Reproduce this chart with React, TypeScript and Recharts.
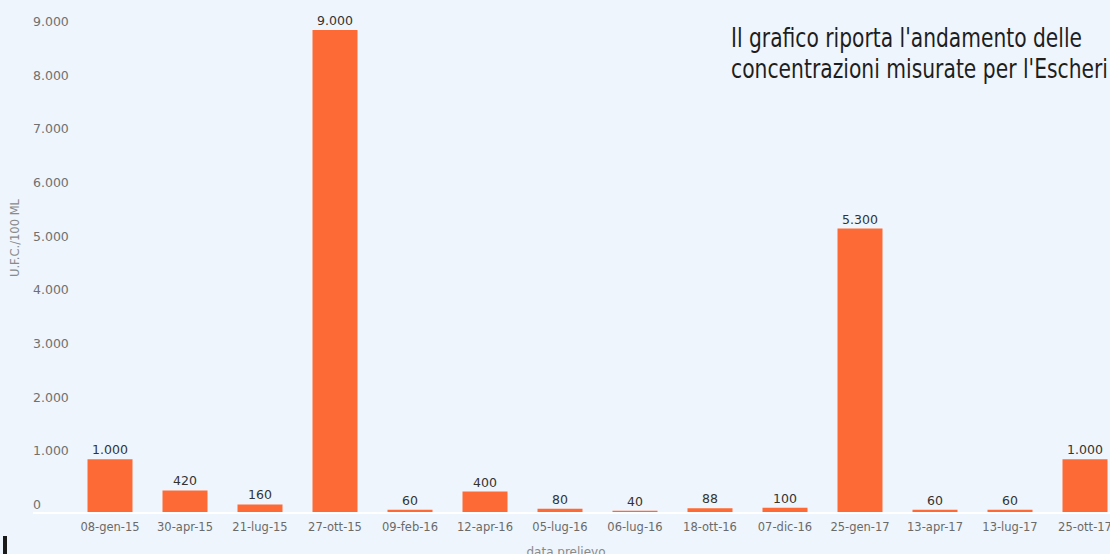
import { BarChart, Bar, XAxis, YAxis, LabelList, Label } from 'recharts'

// sampling dates and E. coli counts (U.F.C./100 mL)
const dates = [
  '08-gen-15',
  '30-apr-15',
  '21-lug-15',
  '27-ott-15',
  '09-feb-16',
  '12-apr-16',
  '05-lug-16',
  '06-lug-16',
  '18-ott-16',
  '07-dic-16',
  '25-gen-17',
  '13-apr-17',
  '13-lug-17',
  '25-ott-17',
]
const ufc = [1000, 420, 160, 9000, 60, 400, 80, 40, 88, 100, 5300, 60, 60, 1000]
const yTicks = [0, 1000, 2000, 3000, 4000, 5000, 6000, 7000, 8000, 9000]

const noteLines = [
  "Il grafico riporta l'andamento delle",
  "concentrazioni misurate per l'Escheri",
]

const data = dates.map((d, i) => ({ data: d, valore: ufc[i] }))

const BG = '#EEF5FC'
const ORANGE = '#FD6A35'
const FONT = "'DejaVu Sans', sans-serif"

// Italian thousands separator: 9000 -> 9.000
const fmt = (v: number) => String(v).replace(/\B(?=(\d{3})+(?!\d))/g, '.')

function YTick({ y, payload }: any) {
  return (
    <text x={33} y={y - 4} fontFamily={FONT} fontSize={12.5} fill="#707070">
      {fmt(payload.value)}
    </text>
  )
}

export default function App() {
  return (
    <div
      style={{
        position: 'fixed',
        left: 0,
        top: 0,
        width: 1110,
        height: 554,
        overflow: 'hidden',
        background: BG,
      }}
    >
      <BarChart
        width={1130}
        height={554}
        data={data}
        margin={{ top: 30, right: 7.5, bottom: 0, left: 0 }}
      >
        <XAxis
          dataKey="data"
          height={41}
          interval={0}
          padding={{ left: 39.5, right: 0 }}
          axisLine={{ stroke: '#ffffff', strokeWidth: 2 }}
          tickLine={false}
          tickSize={0}
          tickMargin={10}
          tick={{ fill: '#6a6a6a', fontSize: 11.5, fontFamily: FONT }}
        >
          <Label
            content={() => (
              <text
                x={566}
                y={556}
                textAnchor="middle"
                fontFamily={FONT}
                fontSize={12}
                fill="#8a8a8a"
              >
                data prelievo
              </text>
            )}
          />
        </XAxis>
        <YAxis
          width={33}
          domain={[0, 9000]}
          ticks={yTicks}
          interval={0}
          axisLine={false}
          tickLine={false}
          tick={<YTick />}
        >
          <Label
            content={() => (
              <text
                x={19}
                y={238}
                transform="rotate(-90 19 238)"
                textAnchor="middle"
                fontFamily={FONT}
                fontSize={11.5}
                fill="#8a8a8a"
              >
                U.F.C./100 ML
              </text>
            )}
          />
        </YAxis>
        <Bar dataKey="valore" fill={ORANGE} barSize={45} isAnimationActive={false}>
          <LabelList
            dataKey="valore"
            position="top"
            offset={5}
            formatter={(v: any) => fmt(Number(v))}
            fill="#333333"
            fontFamily={FONT}
            fontSize={12.5}
          />
        </Bar>
      </BarChart>

      {/* description text at the top right */}
      <svg
        width={1110}
        height={100}
        style={{ position: 'absolute', left: 0, top: 0, pointerEvents: 'none' }}
      >
        <text
          x={731}
          y={47}
          fontFamily="'Liberation Sans Narrow', 'DejaVu Sans Condensed', 'Open Sans', sans-serif"
          fontSize={27}
          fill="#1e1e1e"
          textLength={351}
          lengthAdjust="spacingAndGlyphs"
        >
          {noteLines[0]}
        </text>
        <text
          x={731}
          y={78}
          fontFamily="'Liberation Sans Narrow', 'DejaVu Sans Condensed', 'Open Sans', sans-serif"
          fontSize={27}
          fill="#1e1e1e"
          textLength={377}
          lengthAdjust="spacingAndGlyphs"
        >
          {noteLines[1]}
        </text>
      </svg>

      {/* edge of the block below the chart */}
      <div
        style={{
          position: 'absolute',
          left: 3,
          top: 536,
          width: 4,
          height: 18,
          background: '#1a1a1a',
        }}
      />
    </div>
  )
}
